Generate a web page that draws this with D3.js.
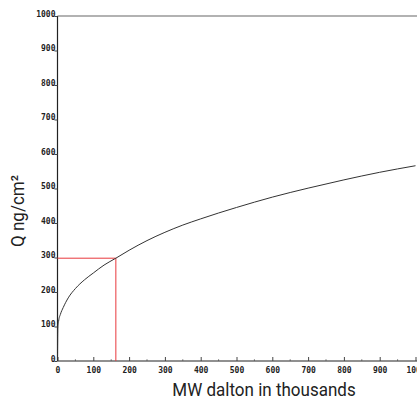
<!DOCTYPE html>
<html><head><meta charset="utf-8">
<script src="https://cdn.jsdelivr.net/npm/d3@7"></script>
<style>
html,body{margin:0;padding:0;background:#fff;}
svg{display:block;}
.tick text{font-family:"DejaVu Sans Mono",monospace;font-weight:bold;font-size:8px;fill:#222;}
.title{font-family:"Roboto","Liberation Sans",sans-serif;font-weight:400;font-size:18.5px;fill:#222;}
</style></head>
<body>
<svg id="c" width="417" height="409"></svg>
<script>
// Data
const mwValues = [0, 1, 3, 8, 16, 30, 50, 75, 100, 130, 163, 200, 250, 300, 350, 400, 450, 500, 600, 700, 800, 900, 1000];
const qValues  = [0, 95, 115, 135, 155, 183, 210, 235, 255, 278, 298, 321, 349, 373, 394, 412, 429, 445, 475, 501, 525, 547, 566];
const xTicks = [0, 100, 200, 300, 400, 500, 600, 700, 800, 900, 1000];
const yTicks = [0, 100, 200, 300, 400, 500, 600, 700, 800, 900, 1000];
const markerMW = 163;
const markerQ = 298;
const xTitle = "MW dalton in thousands";
const yTitle = "Q ng/cm²";

const svg = d3.select("#c");
const x = d3.scaleLinear().domain([0, 1000]).range([57.5, 415.5]);
const y = d3.scaleLinear().domain([0, 1000]).range([361, 16]);

// top border
svg.append("line").attr("x1", x(0)).attr("x2", 417).attr("y1", y(1000)).attr("y2", y(1000))
  .attr("stroke", "#666").attr("stroke-width", 1.2);

// minor x ticks
svg.append("g").selectAll("line").data(d3.range(50, 1000, 100)).join("line")
  .attr("x1", d => x(d)).attr("x2", d => x(d)).attr("y1", y(0)).attr("y2", y(0) - 2)
  .attr("stroke", "#999");

// x axis
const gx = svg.append("g").attr("transform", `translate(0,${y(0)})`)
  .call(d3.axisBottom(x).tickValues(xTicks).tickSize(0).tickPadding(6).tickFormat(d3.format("d")));
gx.select(".domain").attr("stroke", "#222").attr("stroke-width", 1.2).attr("d", `M${x(0)},0H417`);
gx.selectAll(".tick").append("line").attr("y1", 0).attr("y2", -4).attr("stroke", "#444");
gx.selectAll(".tick text").attr("dy", "0.71em");

// y axis
const gy = svg.append("g").attr("transform", `translate(${x(0)},0)`)
  .call(d3.axisLeft(y).tickValues(yTicks).tickSize(3).tickPadding(1).tickFormat(d3.format("d")));
gy.select(".domain").attr("stroke", "#222").attr("stroke-width", 1.2).attr("d", `M0,${y(0)}V${y(1000)}`);
gy.selectAll(".tick line").attr("stroke", "#444");
gy.selectAll(".tick text").attr("dy", "0em").attr("x", -2);

// red marker lines
svg.append("path")
  .attr("d", `M${x(0)},${y(markerQ)}H${x(markerMW)}V${y(0)}`)
  .attr("fill", "none").attr("stroke", "#e8383c").attr("stroke-width", 1);

// curve
const pts = mwValues.map((m, i) => [m, qValues[i]]);
svg.append("path").datum(pts)
  .attr("d", d3.line().x(d => x(d[0])).y(d => y(d[1])).curve(d3.curveMonotoneX))
  .attr("fill", "none").attr("stroke", "#333").attr("stroke-width", 1);

// titles
svg.append("text").attr("class", "title").attr("text-anchor", "middle")
  .attr("transform", "translate(264,396) scale(0.92,1)").text(xTitle);
svg.append("text").attr("class", "title").attr("text-anchor", "middle")
  .attr("transform", "translate(24,211) rotate(-90) scale(0.92,1)").text(yTitle);
</script>
</body></html>
